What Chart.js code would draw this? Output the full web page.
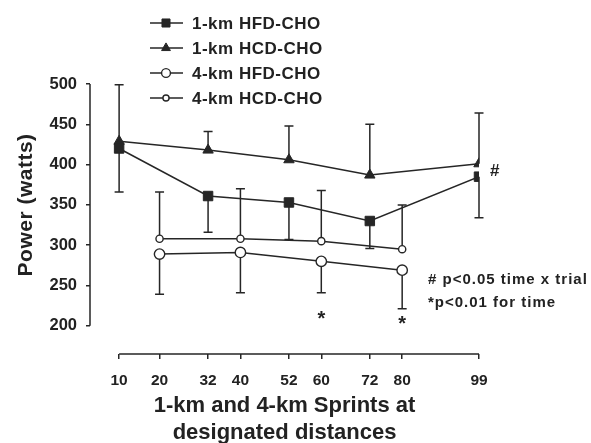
<!DOCTYPE html>
<html>
<head>
<meta charset="utf-8">
<script src="https://cdn.jsdelivr.net/npm/chart.js@4.4.1/dist/chart.umd.min.js"></script>
<style>
  html, body { margin: 0; padding: 0; background: #ffffff; }
  #wrap { width: 591px; height: 443px; position: relative; }
</style>
</head>
<body>
<div id="wrap"><canvas id="chart" width="591" height="443"></canvas></div>
<script>
// Sprint distances (km into the time trial)
const distances1km = [10, 32, 52, 72, 99];
const distances4km = [20, 40, 60, 80];

// Mean power output (watts) and SD for each trial
const hfd1km   = [420, 361, 353, 330, 385];
const hfd1kmSD = [54, 45, 46, 34, 51];
const hcd1km   = [429, 418, 406, 387, 401];
const hcd1kmSD = [70, 23, 42, 63, 63];
const hfd4km   = [289, 291, 280, 269];
const hfd4kmSD = [50, 50, 39, 48];
const hcd4km   = [308, 308, 305, 295];
const hcd4kmSD = [58, 62, 63, 55];

// Axis ticks
const xTicks = [10, 20, 32, 40, 52, 60, 72, 80, 99];
const yTicks = [200, 250, 300, 350, 400, 450, 500];

const seriesNames = ['1-km HFD-CHO', '1-km HCD-CHO', '4-km HFD-CHO', '4-km HCD-CHO'];

const INK = '#262626';
const TEXT = '#222222';
const FONT = 'Liberation Sans';

function pts(xs, ys) { return xs.map((x, i) => ({ x: x, y: ys[i] })); }

const datasets = [
  { label: seriesNames[0], data: pts(distances1km, hfd1km), sd: hfd1kmSD, dir: -1,
    pointStyle: 'rect', pointRadius: 6.7, backgroundColor: INK, borderColor: INK, pointBorderWidth: 1 },
  { label: seriesNames[1], data: pts(distances1km, hcd1km), sd: hcd1kmSD, dir: 1,
    pointStyle: 'triangle', pointRadius: 6, backgroundColor: INK, borderColor: INK, pointBorderWidth: 1 },
  { label: seriesNames[2], data: pts(distances4km, hfd4km), sd: hfd4kmSD, dir: -1,
    pointStyle: 'circle', pointRadius: 5.2, backgroundColor: '#ffffff', borderColor: INK, pointBorderWidth: 1.4 },
  { label: seriesNames[3], data: pts(distances4km, hcd4km), sd: hcd4kmSD, dir: 1,
    pointStyle: 'circle', pointRadius: 3.6, backgroundColor: '#ffffff', borderColor: INK, pointBorderWidth: 1.4 }
].map(d => Object.assign({ borderWidth: 1.5, fill: false, tension: 0, pointHoverRadius: d.pointRadius }, d));

// One-sided SD bars: up for the HCD trials, down for the HFD trials
const errorBarPlugin = {
  id: 'errorBars',
  beforeDatasetsDraw(chart) {
    const ctx = chart.ctx, xs = chart.scales.x, ys = chart.scales.y;
    ctx.save();
    ctx.strokeStyle = INK;
    ctx.lineWidth = 1.5;
    chart.data.datasets.forEach(ds => {
      ds.data.forEach((p, i) => {
        const px = xs.getPixelForValue(p.x);
        const y0 = ys.getPixelForValue(p.y);
        const y1 = ys.getPixelForValue(p.y + ds.dir * ds.sd[i]);
        ctx.beginPath();
        ctx.moveTo(px, y0); ctx.lineTo(px, y1);
        ctx.moveTo(px - 4.5, y1); ctx.lineTo(px + 4.5, y1);
        ctx.stroke();
      });
    });
    ctx.restore();
  }
};

function drawMarker(ctx, ds, x, y, r) {
  ctx.save();
  ctx.fillStyle = ds.backgroundColor;
  ctx.strokeStyle = ds.borderColor;
  ctx.lineWidth = ds.pointBorderWidth;
  Chart.helpers.drawPoint(ctx, { pointStyle: ds.pointStyle, radius: r, rotation: 0, borderWidth: ds.pointBorderWidth }, x, y);
  ctx.restore();
}

// Axis lines, legend, axis title and annotations
const decorPlugin = {
  id: 'decor',
  afterDraw(chart) {
    const ctx = chart.ctx, xs = chart.scales.x, ys = chart.scales.y, area = chart.chartArea;
    ctx.save();
    ctx.strokeStyle = INK;
    ctx.lineWidth = 1.5;
    // y axis spans the tick range only
    ctx.beginPath();
    ctx.moveTo(area.left, ys.getPixelForValue(yTicks[0]));
    ctx.lineTo(area.left, ys.getPixelForValue(yTicks[yTicks.length - 1]));
    // x axis spans first to last sprint
    ctx.moveTo(xs.getPixelForValue(xTicks[0]), area.bottom);
    ctx.lineTo(xs.getPixelForValue(xTicks[xTicks.length - 1]), area.bottom);
    ctx.stroke();

    // legend
    const rowY = [23, 48, 73, 98];
    chart.data.datasets.forEach((ds, i) => {
      const y = rowY[i];
      ctx.strokeStyle = INK;
      ctx.lineWidth = 1.5;
      ctx.beginPath();
      ctx.moveTo(150, y); ctx.lineTo(183, y);
      ctx.stroke();
      drawMarker(ctx, ds, 166, y, ds.pointRadius * 0.85);
      ctx.fillStyle = TEXT;
      ctx.font = 'bold 17px "' + FONT + '"';
      ctx.letterSpacing = '0.5px';
      ctx.textAlign = 'left';
      ctx.textBaseline = 'middle';
      ctx.fillText(ds.label, 192, y + 1);
    });
    ctx.letterSpacing = '0px';

    // y axis title, centred on the 200-500 range
    ctx.save();
    ctx.translate(26, ys.getPixelForValue(350));
    ctx.rotate(-Math.PI / 2);
    ctx.font = 'bold 21px "' + FONT + '"';
    ctx.letterSpacing = '0.5px';
    ctx.textAlign = 'center';
    ctx.textBaseline = 'middle';
    ctx.fillStyle = TEXT;
    ctx.fillText('Power (watts)', 0, 0);
    ctx.restore();

    // significance marks
    ctx.fillStyle = TEXT;
    ctx.font = 'bold 17px "' + FONT + '"';
    ctx.textAlign = 'left';
    ctx.textBaseline = 'middle';
    ctx.fillText('#', xs.getPixelForValue(99) + 11, ys.getPixelForValue(392));
    ctx.font = 'bold 20px "' + FONT + '"';
    ctx.textAlign = 'center';
    ctx.textBaseline = 'alphabetic';
    ctx.fillText('*', xs.getPixelForValue(60), ys.getPixelForValue(216) + 12);
    ctx.fillText('*', xs.getPixelForValue(80), ys.getPixelForValue(210) + 12);

    ctx.font = 'bold 15px "' + FONT + '"';
    ctx.letterSpacing = '1px';
    ctx.textAlign = 'left';
    ctx.textBaseline = 'middle';
    ctx.fillText('# p<0.05 time x trial', 428, 280);
    ctx.fillText('*p<0.01 for time', 428, 303);
    ctx.restore();
  }
};

new Chart(document.getElementById('chart'), {
  type: 'line',
  data: { datasets: datasets },
  options: {
    responsive: false,
    animation: false,
    events: [],
    layout: { padding: { left: 0, right: 112, top: 84, bottom: 0 } },
    plugins: { legend: { display: false }, tooltip: { enabled: false } },
    scales: {
      x: {
        type: 'linear',
        min: 2.8,
        max: 99,
        afterBuildTicks: s => { s.ticks = xTicks.map(v => ({ value: v })); },
        afterFit: s => { s.height = 89; },
        border: { display: false },
        grid: { drawOnChartArea: false, drawTicks: true, tickLength: 5, color: INK, lineWidth: 1.5 },
        ticks: { padding: 12, color: TEXT, font: { family: FONT, size: 15.5, weight: 'bold' }, autoSkip: false, maxRotation: 0 },
        title: {
          display: true,
          text: ['1-km and 4-km Sprints at', 'designated distances'],
          color: TEXT,
          font: { family: FONT, size: 22, weight: 'bold', lineHeight: 1.2 },
          padding: { top: 0, bottom: -3 }
        }
      },
      y: {
        type: 'linear',
        min: 165,
        max: 500,
        afterBuildTicks: s => { s.ticks = yTicks.map(v => ({ value: v })); },
        afterFit: s => { s.width = 90; },
        border: { display: false },
        grid: { drawOnChartArea: false, drawTicks: true, tickLength: 4, color: INK, lineWidth: 1.5 },
        ticks: { padding: 9, color: TEXT, font: { family: FONT, size: 16.5, weight: 'bold' } }
      }
    }
  },
  plugins: [errorBarPlugin, decorPlugin]
});
</script>
</body>
</html>
